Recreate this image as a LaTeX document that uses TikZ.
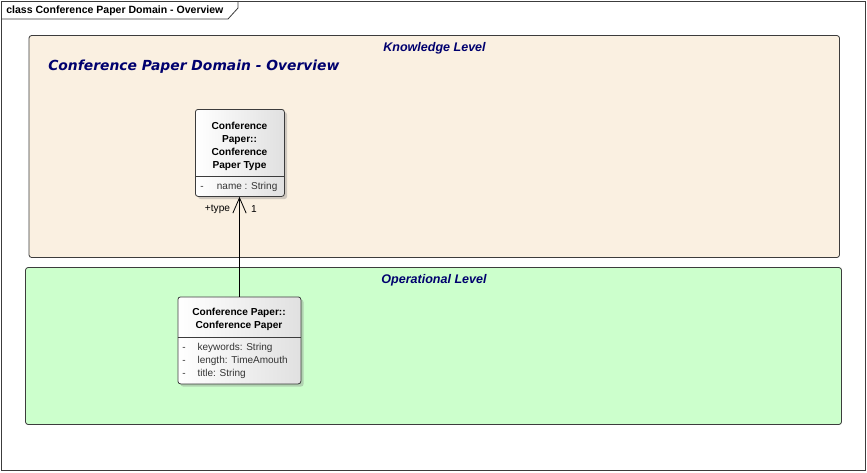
\documentclass[tikz,border=0pt]{standalone}
\usepackage{fontspec}
\setmainfont{Liberation Sans}
\newfontfamily\titlefont{DejaVu Sans}
\usetikzlibrary{arrows.meta,shadows,positioning}
\definecolor{navy}{RGB}{0,0,110}
\definecolor{kfill}{RGB}{250,240,225}
\definecolor{ofill}{RGB}{204,255,204}
\definecolor{edgegray}{RGB}{60,60,60}
\tikzset{
  levelbox/.style={draw=edgegray, line width=0.6pt, rounded corners=2pt},
  leveltitle/.style={font=\fontsize{9.4}{11}\selectfont\bfseries\itshape, text=navy, inner sep=0pt},
  classbox/.style={draw=edgegray, line width=0.6pt, rounded corners=2pt, left color=white, right color=black!12,
    drop shadow={shadow xshift=2pt, shadow yshift=-2pt, opacity=0.35}, anchor=north west, inner sep=0pt},
  classtext/.style={font=\fontsize{7.6}{9.75}\selectfont\bfseries, align=center, inner sep=0pt},
  attrtext/.style={font=\fontsize{7.5}{9.75}\selectfont, text=black!80, inner sep=0pt, anchor=west},
  lbl/.style={font=\fontsize{7.6}{9}\selectfont, inner sep=0pt},
  assoc/.style={draw=black, line width=0.6pt, -{Straight Barb[length=11.5pt,width=10pt,line width=0.6pt]}}
}
\begin{document}
\begin{tikzpicture}[x=0.75pt,y=-0.75pt]
\useasboundingbox (0,0) rectangle (867,472);
\fill[white] (0,0) rectangle (867,472);
% outer frame
\draw[edgegray, line width=0.6pt] (1.5,1.5) rectangle (865.5,470.5);
\draw[edgegray, line width=0.6pt] (1.5,19) -- (228,19) -- (238,8) -- (238,1.5);
\node[font=\fontsize{7.9}{9}\selectfont\bfseries, anchor=west, inner sep=0pt] (frametitle) at (6,11) {class Conference Paper Domain - Overview};
% knowledge level
\draw[levelbox, fill=kfill] (29,35.5) rectangle (839.5,257.5);
\node[leveltitle] (kltitle) at (434.5,48.5) {Knowledge Level};
\node[font=\fontsize{10.4}{12}\selectfont\bfseries\itshape\titlefont, text=navy, anchor=west, inner sep=0pt] (diagtitle) at (48,67) {Conference Paper Domain - Overview};
% operational level
\draw[levelbox, fill=ofill] (25.5,267.5) rectangle (841.5,424.5);
\node[leveltitle] (oltitle) at (434,280.5) {Operational Level};
% class Conference Paper Type
\node[classbox, minimum width=66.75pt, minimum height=65.25pt] (cpt) at (195,109) {};
\draw[edgegray, line width=0.6pt] (195,176) -- (284,176);
\node[classtext] (cpth) at (239.5,146) {Conference\\Paper::\\Conference\\Paper Type};
\node[attrtext] (cpta1) at (200,187) {-\hspace{10pt}name : String};
% class Conference Paper
\node[classbox, minimum width=92.25pt, minimum height=65.25pt] (cp) at (177.5,296.5) {};
\draw[edgegray, line width=0.6pt] (177.5,337) -- (300.5,337);
\node[classtext] (cph) at (239,319) {Conference Paper::\\Conference Paper};
\node[attrtext] (cpa1) at (182,347.5) {-\hspace{9pt}keywords: String};
\node[attrtext] (cpa2) at (182,360.5) {-\hspace{9pt}length: TimeAmouth};
\node[attrtext] (cpa3) at (182,373.5) {-\hspace{9pt}title: String};
% association
\draw[assoc] (cp.north -| 239.5,0) -- (cpt.south -| 239.5,0);
\node[lbl] (role) at (217.5,209) {+type};
\node[lbl] (mult) at (254,209) {1};
\end{tikzpicture}
\end{document}
